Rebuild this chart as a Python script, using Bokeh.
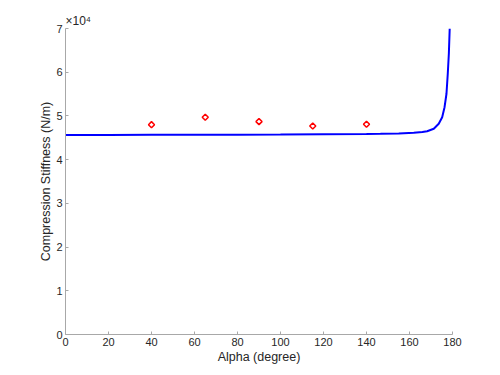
import math
from bokeh.plotting import figure
from bokeh.models import FixedTicker, Range1d
from bokeh.embed import file_html
from bokeh.resources import INLINE

# Model curve: Compression stiffness vs alpha
alpha_curve = [0, 20, 40, 60, 80, 100, 120, 140, 146.5, 155, 162.0, 166, 168.2, 171.3,
               173.6, 175.2, 176.3, 177.2, 177.8, 178.3, 178.7]
stiff_curve = [45650, 45660, 45680, 45700, 45720, 45750, 45800, 45870, 45910, 46000,
               46140, 46330, 46510, 47060, 48200, 49710, 52000, 55070, 59640, 64220, 70000]

# Experimental points
alpha_exp = [40, 65, 90, 115, 140]
stiff_exp = [48000, 49700, 48700, 47700, 48100]

x_ticks = [0, 20, 40, 60, 80, 100, 120, 140, 160, 180]
y_ticks = [0, 10000, 20000, 30000, 40000, 50000, 60000, 70000]
y_tick_labels = ["0", "1", "2", "3", "4", "5", "6", "7"]
exponent_label = "×10⁴"

FONT = "Liberation Sans"
AX = "#a8a8a8"
TXT = "#262626"

p = figure(width=500, height=375, output_backend="svg", toolbar_location=None,
           x_range=Range1d(0, 180), y_range=Range1d(0, 70000),
           min_border_left=65, min_border_right=48, min_border_top=28, min_border_bottom=41)
p.outline_line_color = None
p.grid.grid_line_color = None
p.background_fill_color = "white"
p.border_fill_color = "white"

p.line(alpha_curve, stiff_curve, line_color="#0000ff", line_width=2)
p.scatter(alpha_exp, stiff_exp, marker="square", angle=math.pi / 4, size=4.3,
          fill_color=None, line_color="#ff0000", line_width=1.5)

p.xaxis.ticker = FixedTicker(ticks=x_ticks)
p.yaxis.ticker = FixedTicker(ticks=y_ticks)
p.yaxis.major_label_overrides = {t: l for t, l in zip(y_ticks, y_tick_labels)}

for ax in (p.xaxis[0], p.yaxis[0]):
    ax.axis_line_color = AX
    ax.axis_line_width = 1
    ax.major_tick_line_color = AX
    ax.major_tick_in = 3
    ax.major_tick_out = 0
    ax.minor_tick_line_color = None
    ax.major_label_text_font = FONT
    ax.major_label_text_font_size = "11px"
    ax.major_label_text_color = TXT
    ax.axis_label_text_font = FONT
    ax.axis_label_text_font_size = "12.5px"
    ax.axis_label_text_font_style = "normal"
    ax.axis_label_text_color = TXT

p.xaxis.axis_label = "Alpha (degree)"
p.yaxis.axis_label = "Compression Stiffness (N/m)"
p.xaxis.major_label_standoff = 3
p.yaxis.major_label_standoff = 3
p.xaxis.axis_label_standoff = 1
p.yaxis.axis_label_standoff = 0

p.title.text = exponent_label
p.title.text_font = FONT
p.title.text_font_size = "12px"
p.title.text_font_style = "normal"
p.title.text_color = TXT
p.title.align = "left"
p.title.offset = 0
p.title.standoff = 1

open("out.html", "w").write(file_html(p, INLINE))
